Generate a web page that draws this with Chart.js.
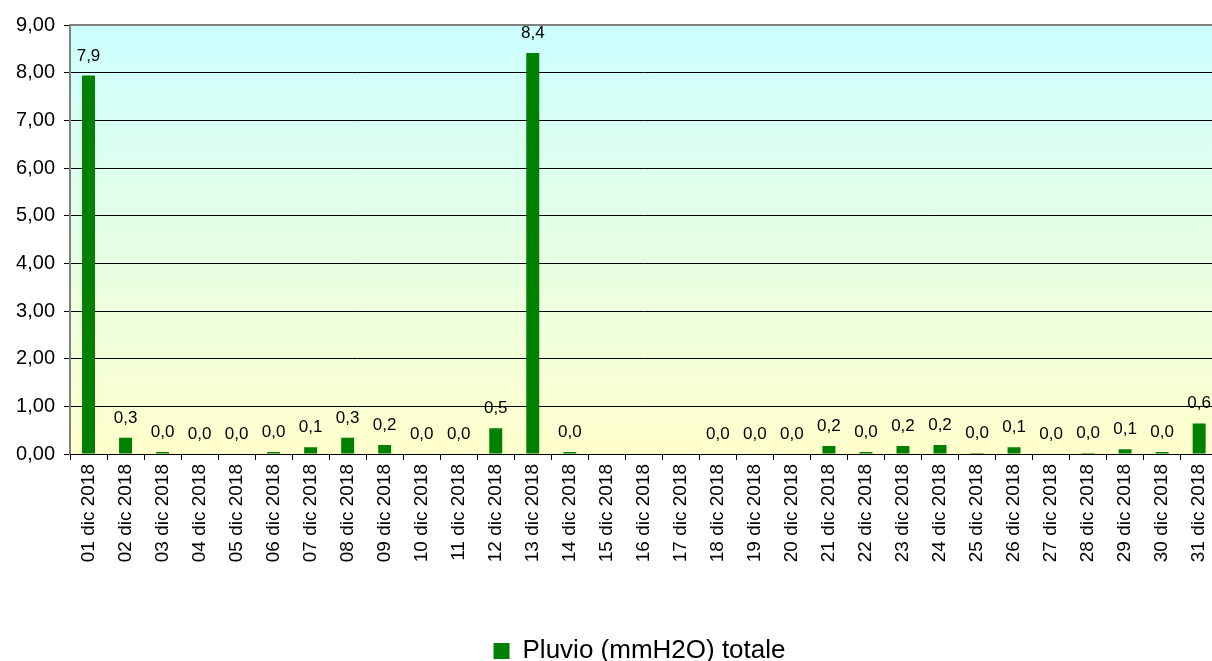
<!DOCTYPE html>
<html>
<head>
<meta charset="utf-8">
<script src="https://cdn.jsdelivr.net/npm/chart.js@4.4.0/dist/chart.umd.min.js"></script>
<style>
html,body{margin:0;padding:0;background:#fff;overflow:hidden;width:1212px;height:661px;}
#wrap{position:absolute;left:0;top:0;width:1226px;height:661px;}
</style>
</head>
<body>
<div id="wrap"><canvas id="c" width="1226" height="661"></canvas></div>
<script>
const categories = ["01 dic 2018","02 dic 2018","03 dic 2018","04 dic 2018","05 dic 2018","06 dic 2018","07 dic 2018","08 dic 2018","09 dic 2018","10 dic 2018","11 dic 2018","12 dic 2018","13 dic 2018","14 dic 2018","15 dic 2018","16 dic 2018","17 dic 2018","18 dic 2018","19 dic 2018","20 dic 2018","21 dic 2018","22 dic 2018","23 dic 2018","24 dic 2018","25 dic 2018","26 dic 2018","27 dic 2018","28 dic 2018","29 dic 2018","30 dic 2018","31 dic 2018"];
const pluvio = [7.94,0.34,0.04,0,0,0.04,0.14,0.34,0.19,0,0,0.54,8.41,0.04,null,null,null,0,0,0,0.17,0.04,0.17,0.19,0.02,0.14,0,0.02,0.1,0.04,0.64];
const seriesName = "Pluvio (mmH2O) totale";
const yMin = 0, yMax = 9, yStep = 1;

const FONT = "'Liberation Sans', Arial, sans-serif";

const bgPlugin = {
  id: 'bg',
  beforeDraw(chart) {
    const {ctx, chartArea:a} = chart;
    const g = ctx.createLinearGradient(0, a.top, 0, a.bottom);
    g.addColorStop(0, '#CCFFFF');
    g.addColorStop(1, '#FFFFCC');
    ctx.save();
    ctx.fillStyle = g;
    ctx.fillRect(a.left, a.top, a.right - a.left, a.bottom - a.top);
    ctx.restore();
  },
  afterDraw(chart) {
    const {ctx, chartArea:a} = chart;
    ctx.save();
    ctx.strokeStyle = '#808080';
    ctx.lineWidth = 2;
    ctx.beginPath();
    ctx.moveTo(a.left, a.top);
    ctx.lineTo(a.right, a.top);
    ctx.lineTo(a.right, a.bottom);
    ctx.stroke();
    ctx.restore();
  }
};

const labelPlugin = {
  id: 'vlabels',
  afterDatasetsDraw(chart) {
    const {ctx} = chart;
    const meta = chart.getDatasetMeta(0);
    ctx.save();
    ctx.font = '17px ' + FONT;
    ctx.fillStyle = '#000';
    ctx.textAlign = 'center';
    ctx.textBaseline = 'alphabetic';
    meta.data.forEach((bar, i) => {
      const v = chart.data.datasets[0].data[i];
      if (v === null || v === undefined) return;
      ctx.fillText(v.toFixed(1).replace('.', ','), bar.x, bar.y - 15);
    });
    ctx.restore();
  }
};

const legendShift = {
  id: 'legendShift',
  afterLayout(chart) {
    const l = chart.legend;
    if (l) { l.left += 28; l.right += 28; l.top += 13; l.bottom += 13; }
  }
};

new Chart(document.getElementById('c'), {
  type: 'bar',
  data: {
    labels: categories,
    datasets: [{
      label: seriesName,
      data: pluvio,
      backgroundColor: '#008000',
      borderWidth: 0,
      categoryPercentage: 1.0,
      barPercentage: 0.35
    }]
  },
  options: {
    responsive: false,
    animation: false,
    devicePixelRatio: 1,
    layout: { padding: { left: 0, right: 3, top: 25, bottom: 0 } },
    plugins: {
      legend: {
        position: 'bottom',
        labels: {
          font: { family: FONT, size: 26 },
          color: '#000',
          boxWidth: 16,
          boxHeight: 16,
          padding: 0
        }
      },
      tooltip: { enabled: false }
    },
    scales: {
      y: {
        min: yMin, max: yMax,
        afterFit(s) { s.width = 70; },
        ticks: {
          stepSize: yStep,
          color: '#000',
          font: { family: FONT, size: 20 },
          padding: 9,
          callback: v => v.toFixed(2).replace('.', ',')
        },
        grid: { color: '#000', lineWidth: 1, tickLength: 6, tickColor: '#000' },
        border: { color: '#808080', width: 2 }
      },
      x: {
        afterFit(s) { s.height = 171; },
        ticks: {
          color: '#000',
          font: { family: FONT, size: 19 },
          minRotation: 90, maxRotation: 90,
          autoSkip: false,
          padding: 4
        },
        grid: { drawOnChartArea: false, tickLength: 6, tickColor: '#000', offset: true },
        border: { color: '#000', width: 1 }
      }
    }
  },
  plugins: [bgPlugin, labelPlugin, legendShift]
});
</script>
</body>
</html>
